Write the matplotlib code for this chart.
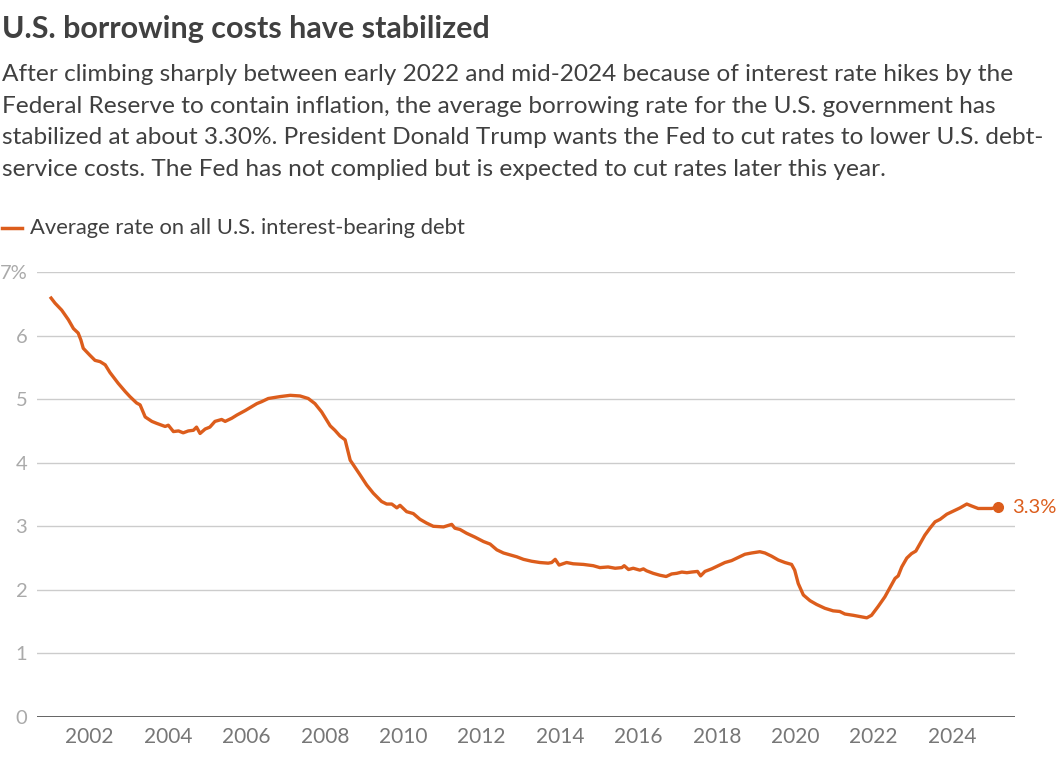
import matplotlib
matplotlib.use("Agg")
import matplotlib.pyplot as plt

# Average interest rate on U.S. interest-bearing debt (%)
years = [
    2001.02, 2001.12, 2001.29, 2001.46, 2001.59, 2001.71, 2001.78, 2001.84,
    2002.01, 2002.14, 2002.27, 2002.40, 2002.52, 2002.73, 2002.91,
    2003.03, 2003.20, 2003.29, 2003.42, 2003.59, 2003.71, 2003.93,
    2004.01, 2004.14, 2004.27, 2004.39, 2004.52, 2004.65, 2004.73, 2004.82, 2004.95,
    2005.07, 2005.20, 2005.37, 2005.46, 2005.63, 2005.76, 2005.97,
    2006.27, 2006.39, 2006.56, 2006.86,
    2007.12, 2007.37, 2007.58, 2007.75, 2007.92,
    2008.05, 2008.14, 2008.26, 2008.39, 2008.52, 2008.65, 2008.77, 2008.90,
    2009.07, 2009.24, 2009.45, 2009.58, 2009.71, 2009.84, 2009.92,
    2010.09, 2010.26, 2010.43, 2010.60, 2010.77,
    2011.03, 2011.24, 2011.32, 2011.45, 2011.62, 2011.83,
    2012.05, 2012.22, 2012.39, 2012.56, 2012.73, 2012.90,
    2013.07, 2013.28, 2013.49, 2013.70, 2013.79, 2013.88, 2013.98,
    2014.17, 2014.34, 2014.60, 2014.85,
    2015.02, 2015.23, 2015.41, 2015.58, 2015.64, 2015.75, 2015.87,
    2016.04, 2016.13, 2016.21, 2016.38, 2016.55, 2016.71, 2016.85, 2016.98,
    2017.11, 2017.24, 2017.36, 2017.51, 2017.59, 2017.70, 2017.87,
    2018.04, 2018.21, 2018.38, 2018.55, 2018.72, 2018.89,
    2019.10, 2019.23, 2019.40, 2019.57, 2019.74, 2019.91, 2019.99,
    2020.08, 2020.21, 2020.38, 2020.55, 2020.76, 2020.97,
    2021.14, 2021.27, 2021.48, 2021.65, 2021.83, 2021.95,
    2022.12, 2022.29, 2022.46, 2022.55, 2022.63, 2022.72, 2022.85, 2022.97,
    2023.08, 2023.19, 2023.31, 2023.44, 2023.57, 2023.70, 2023.87,
    2024.04, 2024.21, 2024.38, 2024.50, 2024.67, 2024.84,
    2025.01, 2025.18,
]
rates = [
    6.59, 6.51, 6.40, 6.25, 6.11, 6.04, 5.93, 5.80,
    5.69, 5.61, 5.59, 5.54, 5.42, 5.25, 5.12,
    5.04, 4.94, 4.91, 4.72, 4.65, 4.62, 4.57,
    4.59, 4.49, 4.50, 4.47, 4.50, 4.51, 4.56, 4.46, 4.53,
    4.56, 4.65, 4.68, 4.65, 4.70, 4.75, 4.82,
    4.93, 4.96, 5.01, 5.04,
    5.06, 5.05, 5.01, 4.93, 4.80,
    4.67, 4.58, 4.51, 4.42, 4.36, 4.04, 3.93, 3.81,
    3.65, 3.52, 3.39, 3.35, 3.35, 3.29, 3.33,
    3.23, 3.20, 3.11, 3.05, 3.00,
    2.99, 3.03, 2.97, 2.95, 2.89, 2.83,
    2.76, 2.72, 2.63, 2.58, 2.55, 2.52,
    2.48, 2.45, 2.43, 2.42, 2.43, 2.48, 2.39,
    2.43, 2.41, 2.40, 2.38,
    2.35, 2.36, 2.34, 2.35, 2.38, 2.32, 2.34,
    2.31, 2.33, 2.30, 2.26, 2.23, 2.21, 2.25, 2.26,
    2.28, 2.27, 2.28, 2.29, 2.22, 2.29, 2.33,
    2.38, 2.43, 2.46, 2.51, 2.56, 2.58,
    2.60, 2.58, 2.53, 2.47, 2.43, 2.40, 2.31,
    2.10, 1.92, 1.83, 1.77, 1.71, 1.67,
    1.66, 1.62, 1.60, 1.58, 1.56, 1.60,
    1.74, 1.89, 2.08, 2.18, 2.22, 2.36, 2.50, 2.57,
    2.61, 2.73, 2.86, 2.97, 3.07, 3.11, 3.19,
    3.24, 3.29, 3.35, 3.32, 3.28, 3.28,
    3.28, 3.30,
]

y_ticks = [0, 1, 2, 3, 4, 5, 6, 7]
y_labels = ["0", "1", "2", "3", "4", "5", "6", "7%"]
x_ticks = [2002, 2004, 2006, 2008, 2010, 2012, 2014, 2016, 2018, 2020, 2022, 2024]

title = "U.S. borrowing costs have stabilized"
subtitle = [
    "After climbing sharply between early 2022 and mid-2024 because of interest rate hikes by the",
    "Federal Reserve to contain inflation, the average borrowing rate for the U.S. government has",
    "stabilized at about 3.30%. President Donald Trump wants the Fed to cut rates to lower U.S. debt-",
    "service costs. The Fed has not complied but is expected to cut rates later this year.",
]
legend_label = "Average rate on all U.S. interest-bearing debt"
end_label = "3.3%"

ORANGE = "#dc5d1c"
TEXT = "#404040"
W, H = 1057, 766

plt.rcParams["font.family"] = ["Lato", "DejaVu Sans"]

fig = plt.figure(figsize=(W / 100, H / 100), dpi=100)
fig.patch.set_facecolor("white")

def fy(px):
    return 1 - px / H

# Titles
fig.text(2 / W, fy(38), title, fontsize=22, fontweight="bold", color=TEXT, va="baseline")
for i, line in enumerate(subtitle):
    fig.text(2 / W, fy(81 + i * 31.7), line, fontsize=17.6, color=TEXT, va="baseline")

# Legend
fig.add_artist(plt.Line2D([2 / W, 22 / W], [fy(228), fy(228)], color=ORANGE, lw=2.5))
fig.text(30 / W, fy(234), legend_label, fontsize=15.8, color=TEXT, va="baseline")

# Chart area
ax = fig.add_axes([37 / W, fy(717), (1015 - 37) / W, (717 - 272) / H])
ax.plot(years, rates, color=ORANGE, lw=2.4, solid_joinstyle="round", zorder=3)
ax.plot(years[-1], rates[-1], "o", color=ORANGE, ms=7, zorder=4)
ax.annotate(end_label, (years[-1], rates[-1]), xytext=(10, 0), textcoords="offset points",
            color=ORANGE, fontsize=14.5, va="center", ha="left",
            annotation_clip=False)

ax.set_xlim(2000.66, 2025.61)
ax.set_ylim(0, 7)
ax.set_yticks(y_ticks)
ax.set_yticklabels(y_labels)
ax.set_xticks(x_ticks)
ax.set_xticklabels([str(t) for t in x_ticks])

for t in y_ticks[1:]:
    ax.axhline(t, color="#cccccc", lw=1, zorder=1)
ax.axhline(0, color="#555555", lw=2, zorder=2)

for s in ax.spines.values():
    s.set_visible(False)
ax.tick_params(axis="y", length=0, pad=7, labelsize=14.5, labelcolor="#aaaaaa")
ax.tick_params(axis="x", length=0, pad=7, labelsize=15, labelcolor="#777777")

fig.savefig("out.png", dpi=100)
plt.close(fig)
